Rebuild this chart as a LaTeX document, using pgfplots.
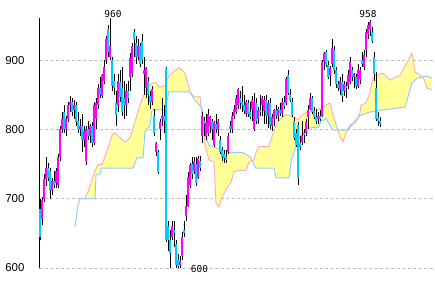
\documentclass[border=0pt]{standalone}
\usepackage{fontspec}
\setmainfont{Liberation Sans}
\newfontfamily\monof{DejaVu Sans Mono}
\usepackage{pgfplots}
\usepackage{pgfplotstable}
\pgfplotsset{compat=1.18}
\usetikzlibrary{patterns.meta}
\definecolor{upc}{RGB}{255,0,255}
\definecolor{dnc}{RGB}{0,204,255}
\definecolor{spa}{RGB}{255,170,200}
\definecolor{spb}{RGB}{150,200,255}
\definecolor{cloudc}{RGB}{255,255,215}
\definecolor{hatchc}{RGB}{255,255,150}
\definecolor{gridc}{RGB}{190,190,190}

\pgfplotstableread{
i o h l c
0 685 700 640 645
1 670 702 662 698
2 700 735 695 728
3 728 760 718 745
4 745 752 725 730
5 740 745 700 712
6 712 730 705 725
7 725 740 715 720
8 722 745 715 740
9 720 765 715 760
10 760 805 755 800
11 800 825 795 815
12 825 835 795 800
13 800 820 790 815
14 815 840 810 835
15 835 848 825 840
16 840 845 820 825
17 828 842 815 835
18 835 840 805 810
19 812 825 795 800
20 800 815 790 805
21 805 822 768 785
22 785 805 775 798
23 755 805 748 800
24 800 812 785 790
25 790 808 780 805
26 805 810 775 780
27 780 840 778 835
28 815 845 800 838
29 835 865 830 860
30 860 875 845 850
31 848 880 845 878
32 870 900 865 890
33 900 935 895 930
34 945 950 905 912
35 905 960 900 920
36 900 905 855 862
37 870 880 850 860
38 838 855 805 821
39 835 880 825 870
40 868 885 840 847
41 860 890 820 825
42 845 870 815 835
43 835 865 820 855
44 855 870 838 845
45 876 910 855 903
46 880 925 875 920
47 940 945 905 930
48 925 935 895 905
49 905 930 900 920
50 920 925 890 895
51 928 938 895 900
52 880 905 850 885
53 860 890 845 888
54 870 875 835 850
55 848 855 830 840
56 840 862 835 858
57 820 830 790 795
58 768 782 762 780
59 767 770 735 738
60 800 815 785 810
61 815 845 805 820
62 820 835 795 812
63 889 890 638 640
64 660 668 625 640
65 640 655 600 622
66 645 668 640 660
67 655 668 630 650
68 635 640 600 605
69 612 620 600 603
70 605 618 600 610
71 618 652 612 645
72 655 668 645 650
73 675 705 668 690
74 690 738 688 732
75 720 752 715 748
76 750 760 728 735
77 740 760 735 755
78 750 760 718 722
79 730 762 728 758
80 755 762 740 745
81 790 825 780 820
82 812 818 790 808
83 790 822 785 810
84 795 830 790 822
85 805 820 795 818
86 812 815 785 800
87 778 812 775 810
88 808 822 795 800
89 800 815 790 812
90 785 790 765 768
91 770 775 755 760
92 765 770 752 758
93 760 770 752 756
94 768 795 765 790
95 805 812 795 800
96 800 825 795 820
97 820 835 815 830
98 825 850 822 845
99 835 860 830 858
100 845 855 830 838
101 840 862 825 835
102 835 850 822 826
103 822 842 818 840
104 838 842 818 822
105 825 840 815 818
106 830 848 812 842
107 800 852 798 840
108 838 845 808 812
109 815 832 808 828
110 828 850 820 825
111 835 848 820 845
112 826 848 808 842
113 842 850 808 820
114 820 842 802 838
115 838 845 800 806
116 805 822 798 818
117 815 830 805 828
118 828 835 815 820
119 820 832 812 830
120 828 838 820 824
121 824 845 818 840
122 840 848 830 834
123 838 875 835 872
124 878 885 850 853
125 850 858 840 842
126 840 845 818 821
127 812 818 785 788
128 795 800 775 778
129 806 810 720 730
130 780 790 770 775
131 782 812 778 790
132 795 800 780 792
133 795 815 790 811
134 818 835 800 828
135 830 852 828 845
136 845 848 822 825
137 826 832 815 818
138 818 830 808 812
139 815 825 808 820
140 820 828 812 815
141 820 900 818 897
142 897 912 885 910
143 912 915 890 893
144 893 898 872 875
145 878 892 862 888
146 895 930 890 918
147 915 920 880 885
148 885 890 860 865
149 865 870 855 860
150 858 875 850 870
151 868 880 840 848
152 855 870 848 865
153 862 868 845 860
154 862 885 858 878
155 868 905 865 897
156 885 890 870 875
157 875 882 860 880
158 875 880 858 862
159 862 895 860 885
160 872 890 865 885
161 900 912 890 895
162 890 915 885 908
163 915 945 905 940
164 938 955 930 950
165 945 958 935 955
166 940 948 925 928
167 905 912 870 880
168 860 883 812 815
169 818 825 805 812
170 812 818 803 808
}\candles

% Senkou span A
\pgfplotstableread{
i v
22.5 700
24 710
27.5 740
29 749
31 749
34 773
36 792
37.5 795
40 788
42.5 782
45 788
47.5 811
50 835
52.5 854
55 864
57.5 868
60 861
62.5 863
64.5 878
69.5 889
72.5 881
75 854
77 847
80 847
81 821
82.5 777
84.5 756
87 753
88 694
89.5 688
91 702
93 713
95.5 724
97 739
99.5 741
103 741
104.5 753
107 756
108 767
109.5 775
114.5 775
115.5 785
118 806
120.5 816
123 821
126.5 818
129 814
131.5 821
133 825
136.5 825
140.5 831
143 835
145 838
146.5 821
150 789
151.5 782
153 796
155 806
158 811
160 824
160.5 835
163 838
165 853
166.5 874
168 878
171.5 881
175 871
180 878
183.5 896
186 910
187.5 883
190 878
191.5 876
193.5 860
196 857
}\spanA

% Senkou span B
\pgfplotstableread{
i v
17.5 659
19 691
20 700
27.5 700
28 734
30 736
30.5 744
46.5 744
48.5 759
51.5 759
52.5 796
55 806
56 828
62.5 828
64.5 854
75 854
77.5 842
81 831
82.5 792
84.5 777
91 770
94.5 767
101 767
103.5 763
105.5 759
108 744
117 744
118 730
124.5 730
125.5 753
127 767
129 785
131.5 795
134 802
139 803
140.5 811
143 816
146.5 799
154 799
158 814
160.5 821
165 825
171.5 828
182.5 832
183.5 842
186 867
188.5 874
193.5 877
196 874
}\spanB

% cloud outline: span A forward, span B backward
\pgfplotstableread{
i v
22.5 700
24 710
27.5 740
29 749
31 749
34 773
36 792
37.5 795
40 788
42.5 782
45 788
47.5 811
50 835
52.5 854
55 864
57.5 868
60 861
62.5 863
64.5 878
69.5 889
72.5 881
75 854
77 847
80 847
81 821
82.5 777
84.5 756
87 753
88 694
89.5 688
91 702
93 713
95.5 724
97 739
99.5 741
103 741
104.5 753
107 756
108 767
109.5 775
114.5 775
115.5 785
118 806
120.5 816
123 821
126.5 818
129 814
131.5 821
133 825
136.5 825
140.5 831
143 835
145 838
146.5 821
150 789
151.5 782
153 796
155 806
158 811
160 824
160.5 835
163 838
165 853
166.5 874
168 878
171.5 881
175 871
180 878
183.5 896
186 910
187.5 883
190 878
191.5 876
193.5 860
196 857
196 874
193.5 877
188.5 874
186 867
183.5 842
182.5 832
171.5 828
165 825
160.5 821
158 814
154 799
146.5 799
143 816
140.5 811
139 803
134 802
131.5 795
129 785
127 767
125.5 753
124.5 730
118 730
117 744
108 744
105.5 759
103.5 763
101 767
94.5 767
91 770
84.5 777
82.5 792
81 831
77.5 842
75 854
64.5 854
62.5 828
56 828
55 806
52.5 796
51.5 759
48.5 759
46.5 744
30.5 744
30 736
28 734
27.5 700
22.5 700
}\cloud

\begin{document}
\begin{tikzpicture}
\path[use as bounding box, fill=white] (0,0) rectangle (435bp,282bp);
\begin{axis}[
  at={(39bp,14bp)}, anchor=south west,
  scale only axis, width=394bp, height=249.5bp,
  xmin=-0.5, xmax=196.5, ymin=600, ymax=960,
  axis x line=none, axis y line*=left,
  axis line style={black, line width=1bp},
  xtick=\empty, ytick={600,700,800,900},
  ymajorgrids, grid style={gridc, dash pattern=on 3bp off 2.5bp, line width=0.8bp},
  major tick length=0pt,
  yticklabel style={font=\fontsize{11.5}{12}\selectfont, xshift=-11bp},
  /pgf/number format/assume math mode=true,
  clip=false, unbounded coords=discard,
]
\addplot[draw=none, fill=cloudc, mark=none] table[x=i, y=v] {\cloud} -- cycle;
\addplot[draw=none, mark=none, pattern={Lines[angle=90,distance=2bp,line width=1bp]}, pattern color=hatchc] table[x=i, y=v] {\cloud} -- cycle;
\addplot[spa, line width=1bp, mark=none] table[x=i, y=v] {\spanA};
\addplot[spb, line width=1bp, mark=none] table[x=i, y=v] {\spanB};
% wicks
\addplot[draw=none, mark=none, error bars/.cd, y dir=plus, y explicit,
  error mark=none, error bar style={black, line width=1bp}]
  table[x=i, y=l, y error expr={\thisrow{h}-\thisrow{l}}] {\candles};
% up bodies
\addplot[draw=none, mark=none, error bars/.cd, y dir=plus, y explicit,
  error mark=none, error bar style={upc, line width=2.2bp}]
  table[x=i, y expr={\thisrow{c}>=\thisrow{o} ? \thisrow{o} : nan},
        y error expr={max(\thisrow{c}-\thisrow{o},2)}] {\candles};
% down bodies
\addplot[draw=none, mark=none, error bars/.cd, y dir=plus, y explicit,
  error mark=none, error bar style={dnc, line width=2.2bp}]
  table[x=i, y expr={\thisrow{c}<\thisrow{o} ? \thisrow{c} : nan},
        y error expr={max(\thisrow{o}-\thisrow{c},2)}] {\candles};
\node[font=\monof\fontsize{9.5}{10}\selectfont] at (axis cs:36.5,967) {960};
\node[font=\monof\fontsize{9.5}{10}\selectfont] at (axis cs:164,966.5) {958};
\node[font=\monof\fontsize{9.5}{10}\selectfont] at (axis cs:79.75,598.6) {600};
\end{axis}
\end{tikzpicture}
\end{document}
